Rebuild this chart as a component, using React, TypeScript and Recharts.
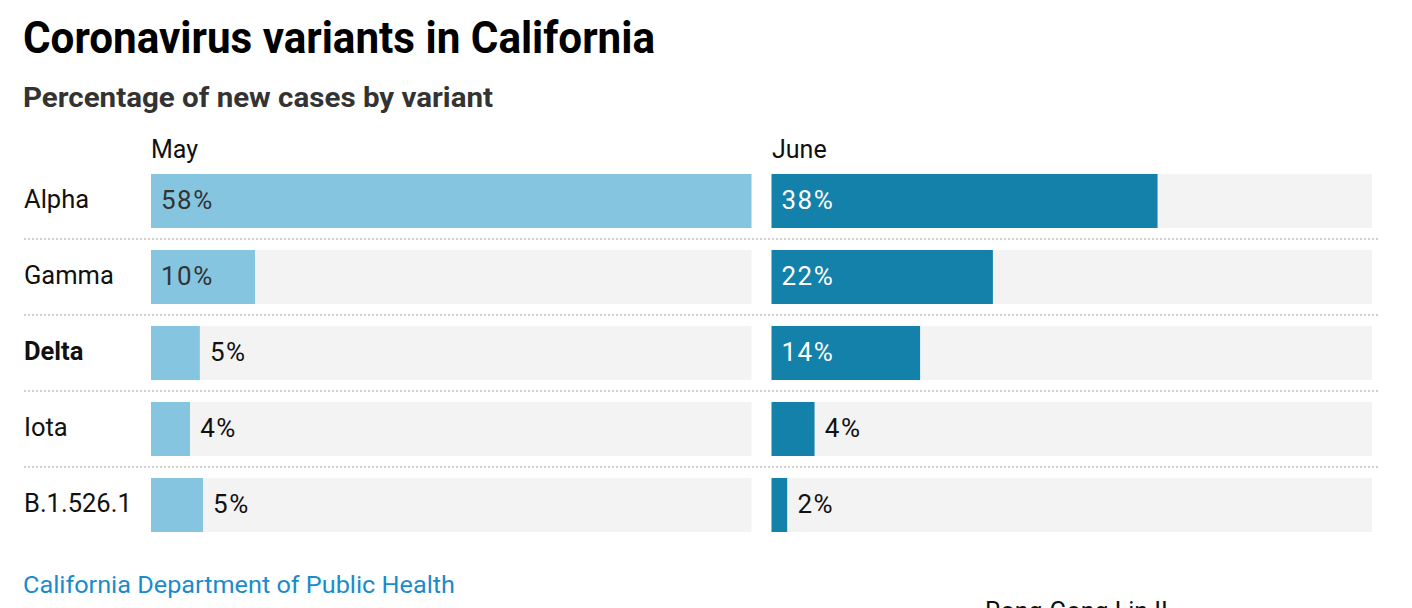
import { BarChart, Bar, XAxis, YAxis, LabelList } from "recharts";

// Share of new cases by variant (%)
const variants = ["Alpha", "Gamma", "Delta", "Iota", "B.1.526.1"];
const mayShare = [58.3, 10.1, 4.75, 3.8, 5.05];
const juneShare = [37.5, 21.5, 14.45, 4.2, 1.55];
const monthLabels = ["May", "June"];

const TRACK_MAX = 58.3; // each panel's gray track spans 0..TRACK_MAX
const PANEL_GAP = 1.94; // white gap between the two panels, in data units

const MAY_COLOR = "#85c5e0";
const JUNE_COLOR = "#1481aa";
const TRACK_COLOR = "#f3f3f3";
const FONT = "Roboto, 'Noto Sans', sans-serif";

const rows = variants.map((name, i) => ({
  name,
  may: mayShare[i],
  mayRest: TRACK_MAX - mayShare[i],
  gap: PANEL_GAP,
  june: juneShare[i],
  juneRest: TRACK_MAX - juneShare[i],
}));

const VariantTick = (props: any) => {
  const { y, payload, index } = props;
  const isLast = index === variants.length - 1;
  return (
    <g>
      <text
        x={24}
        y={y}
        dy={7}
        textAnchor="start"
        fontFamily={FONT}
        fontSize={25.5}
        fontWeight={payload.value === "Delta" ? 700 : 400}
        fill="#111"
      >
        {payload.value}
      </text>
      {!isLast && (
        <line
          x1={24}
          x2={1378}
          y1={y + 38}
          y2={y + 38}
          stroke="#cfcfcf"
          strokeWidth={2}
          strokeDasharray="2 2"
        />
      )}
    </g>
  );
};

const makeLabel = (values: number[], insideColor: string) => (props: any) => {
  const { x, y, width, height, index } = props;
  const v = values[index];
  const inside = v >= 10;
  return (
    <text
      x={inside ? x + 10 : x + width + 10}
      y={y + height / 2}
      dy={8}
      fontFamily={FONT}
      fontSize={26}
      letterSpacing={1.5}
      fill={inside ? insideColor : "#111"}
    >
      {Math.round(v)}%
    </text>
  );
};

export default function App() {
  return (
    <div
      style={{
        position: "absolute",
        left: 0,
        top: 0,
        width: 1412,
        height: 608,
        overflow: "hidden",
        background: "#fff",
      }}
    >
      <svg width={1412} height={130} style={{ position: "absolute", left: 0, top: 0 }}>
        <text
          x={23}
          y={53}
          fontFamily={FONT}
          fontWeight={700}
          fontSize={44}
          fill="#000"
          textLength={632}
          lengthAdjust="spacingAndGlyphs"
        >
          Coronavirus variants in California
        </text>
        <text
          x={23}
          y={107}
          fontFamily={FONT}
          fontWeight={700}
          fontSize={27}
          fill="#333"
          textLength={470}
          lengthAdjust="spacingAndGlyphs"
        >
          Percentage of new cases by variant
        </text>
      </svg>

      <div style={{ position: "absolute", left: 0, top: 0 }}>
        <BarChart
          layout="vertical"
          width={1412}
          height={560}
          data={rows}
          margin={{ top: 163, right: 40, bottom: 17, left: 0 }}
          barSize={54}
        >
          <XAxis type="number" hide domain={[0, 2 * TRACK_MAX + PANEL_GAP]} />
          <YAxis
            type="category"
            dataKey="name"
            width={151}
            axisLine={false}
            tickLine={false}
            tick={<VariantTick />}
          />
          <Bar dataKey="may" stackId="s" fill={MAY_COLOR} isAnimationActive={false}>
            <LabelList dataKey="may" content={makeLabel(mayShare, "#333")} />
          </Bar>
          <Bar dataKey="mayRest" stackId="s" fill={TRACK_COLOR} isAnimationActive={false} />
          <Bar dataKey="gap" stackId="s" fill="transparent" isAnimationActive={false} />
          <Bar dataKey="june" stackId="s" fill={JUNE_COLOR} isAnimationActive={false}>
            <LabelList dataKey="june" content={makeLabel(juneShare, "#fff")} />
          </Bar>
          <Bar dataKey="juneRest" stackId="s" fill={TRACK_COLOR} isAnimationActive={false} />
        </BarChart>
      </div>

      <svg width={1412} height={608} style={{ position: "absolute", left: 0, top: 0, pointerEvents: "none" }}>
        <text x={151} y={158} fontFamily={FONT} fontSize={25} fill="#111">
          {monthLabels[0]}
        </text>
        <text x={772} y={158} fontFamily={FONT} fontSize={25} fill="#111">
          {monthLabels[1]}
        </text>
        <text
          x={23}
          y={593}
          fontFamily={FONT}
          fontSize={24}
          fill="#1a8ccc"
          textLength={432}
          lengthAdjust="spacingAndGlyphs"
        >
          California Department of Public Health
        </text>
        <text x={985} y={620} fontFamily={FONT} fontSize={25} fill="#111">
          Rong-Gong Lin II
        </text>
      </svg>
    </div>
  );
}
